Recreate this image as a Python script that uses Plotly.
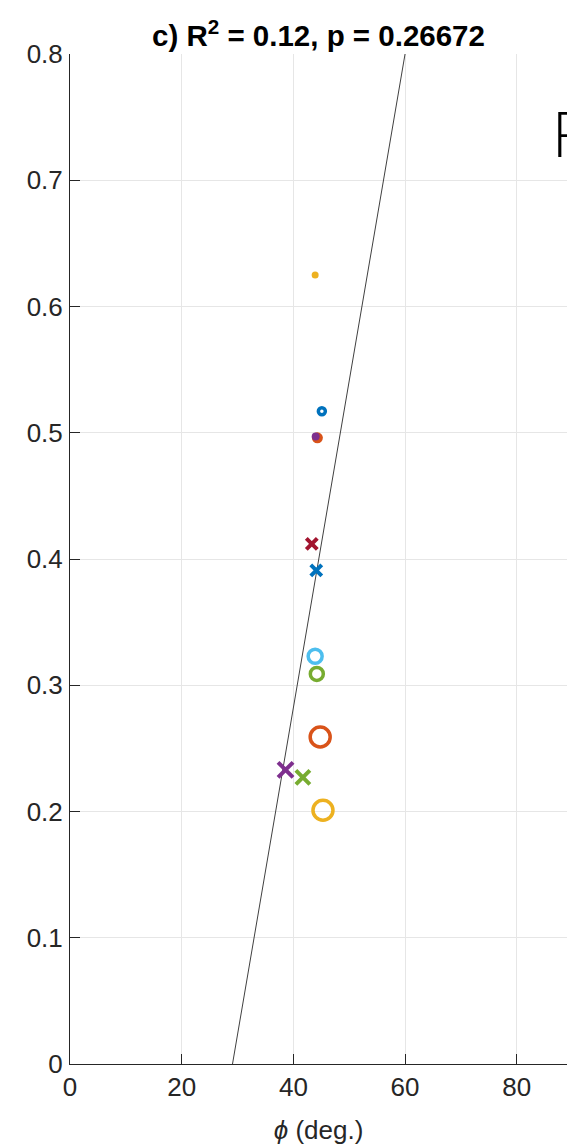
import plotly.graph_objects as go

# ---- data ----
phi_deg = [43.9, 45.1, 44.3, 44.0, 43.3, 44.1, 43.9, 44.2, 44.8, 38.6, 41.7, 45.3]
value = [0.625, 0.517, 0.496, 0.497, 0.412, 0.391, 0.323, 0.309, 0.259, 0.233, 0.227, 0.201]

fit_x = [29.1, 60.0]
fit_y = [0.0, 0.8]

x_ticks = [0, 20, 40, 60, 80]
y_ticks = [0, 0.1, 0.2, 0.3, 0.4, 0.5, 0.6, 0.7, 0.8]
y_tick_labels = ["0", "0.1", "0.2", "0.3", "0.4", "0.5", "0.6", "0.7", "0.8"]

# ---- styles (separate from data) ----
BLUE, ORANGE, YELLOW, PURPLE, GREEN, CYAN, RED = (
    "#0072BD", "#D95319", "#EDB120", "#7E2F8E", "#77AC30", "#4DBEEE", "#A2142F")
styles = [
    dict(symbol="circle", size=7, color=YELLOW, line=dict(width=0)),
    dict(symbol="circle-open", size=7, color=BLUE, line=dict(width=3.5, color=BLUE)),
    dict(symbol="circle", size=11, color=ORANGE, line=dict(width=0)),
    dict(symbol="circle", size=8, color=PURPLE, line=dict(width=0)),
    dict(symbol="x-thin-open", size=11, color=RED, line=dict(width=4, color=RED)),
    dict(symbol="x-thin-open", size=11, color=BLUE, line=dict(width=4, color=BLUE)),
    dict(symbol="circle-open", size=14, color=CYAN, line=dict(width=3.5, color=CYAN)),
    dict(symbol="circle-open", size=13, color=GREEN, line=dict(width=3.5, color=GREEN)),
    dict(symbol="circle-open", size=20, color=ORANGE, line=dict(width=3.5, color=ORANGE)),
    dict(symbol="x-thin-open", size=15, color=PURPLE, line=dict(width=4, color=PURPLE)),
    dict(symbol="x-thin-open", size=14, color=GREEN, line=dict(width=4, color=GREEN)),
    dict(symbol="circle-open", size=20, color=YELLOW, line=dict(width=3.5, color=YELLOW)),
]

FONT = "Liberation Sans, Arial, Helvetica, sans-serif"

W, H = 567, 1147
L, T, B = 70, 54, 83
plot_w = W - L
plot_h = H - T - B

fig = go.Figure()
fig.add_trace(go.Scatter(x=fit_x, y=fit_y, mode="lines",
                         line=dict(color="#404040", width=1), showlegend=False))
for xv, yv, st in zip(phi_deg, value, styles):
    fig.add_trace(go.Scatter(x=[xv], y=[yv], mode="markers", marker=st,
                             showlegend=False))

axis_common = dict(
    showgrid=True, gridcolor="#e6e6e6", gridwidth=1,
    showline=True, linecolor="#262626", linewidth=1,
    ticks="inside", ticklen=10, tickcolor="#262626", tickwidth=1,
    tickfont=dict(family=FONT, size=26, color="#262626"),
    zeroline=False, mirror=False,
)
fig.update_xaxes(range=[0, 89], tickvals=x_ticks, ticktext=[str(t) for t in x_ticks],
                 title=dict(text="<i>ϕ</i> (deg.)", font=dict(family=FONT, size=26, color="#262626"),
                            standoff=19),
                 **axis_common)
fig.update_yaxes(range=[0, 0.8], tickvals=y_ticks, ticktext=y_tick_labels,
                 ticklabelstandoff=1, **axis_common)

fig.add_annotation(text="<b>c) R<sup>2</sup> = 0.12, p = 0.26672</b>",
                   xref="paper", yref="paper", x=(318 - L) / plot_w, y=1.0,
                   xanchor="center", yanchor="bottom", yshift=0, showarrow=False,
                   font=dict(family=FONT, size=29.5, color="#000000"))
fig.add_annotation(text="F", xref="paper", yref="paper", x=(550 - L) / plot_w,
                   y=(H - B - 133) / plot_h, xanchor="left", yanchor="middle",
                   showarrow=False,
                   font=dict(family="Open Sans, sans-serif", size=62, color="#000000", weight=300))

fig.update_layout(width=W, height=H,
                  margin=dict(l=L, r=0, t=T, b=B, pad=0),
                  plot_bgcolor="white", paper_bgcolor="white")
fig.write_html("out.html",
               config={"displayModeBar": False},
               post_script="document.body.style.margin='0';"
                           "document.body.style.overflow='hidden';"
                           "document.documentElement.style.overflow='hidden';")
